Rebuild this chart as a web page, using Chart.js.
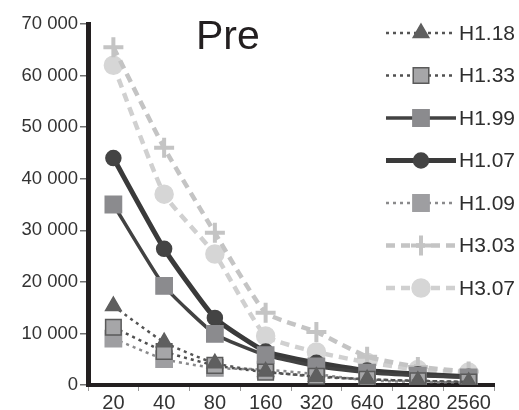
<!DOCTYPE html>
<html>
<head>
<meta charset="utf-8">
<script src="https://cdn.jsdelivr.net/npm/chart.js@4/dist/chart.umd.min.js"></script>
<style>
  html, body { margin: 0; padding: 0; background: #fff; }
  #wrap { width: 519px; height: 410px; }
</style>
</head>
<body>
<div id="wrap"><canvas id="chart" width="519" height="410"></canvas></div>
<script>
const categories = ['20', '40', '80', '160', '320', '640', '1280', '2560'];
const seriesNames = ['H1.18', 'H1.33', 'H1.99', 'H1.07', 'H1.09', 'H3.03', 'H3.07'];
const h118 = [15300, 8300, 4200, 2600, 1600, 1100, 800, 600];
const h133 = [11200, 6500, 3800, 2500, 1700, 1100, 800, 600];
const h199 = [35000, 19200, 9900, 5800, 3600, 2400, 1800, 1500];
const h107 = [44000, 26400, 13000, 6500, 4300, 2800, 2100, 1600];
const h109 = [9000, 5000, 3300, 3000, 2100, 900, 600, 500];
const h303 = [65500, 46000, 29500, 14000, 10300, 5500, 3500, 2600];
const h307 = [62000, 37000, 25400, 9500, 6400, 4400, 3000, 2500];
const yMax = 70000;
const yStep = 10000;

const FONT = "'Liberation Sans', Arial, sans-serif";

function series(label, data, color, width, dash, style, radius, fill, border) {
  return {
    label: label,
    data: data,
    borderColor: color,
    borderWidth: width,
    borderDash: dash,
    pointStyle: style,
    pointRadius: radius,
    pointHoverRadius: radius,
    pointBackgroundColor: fill,
    pointBorderColor: border,
    pointBorderWidth: style === 'cross' ? 4 : 1.5,
    tension: 0.15,
    fill: false
  };
}

const datasets = [
  series(seriesNames[0], h118, '#555555', 2.5, [3, 4], 'triangle', 9, '#5f5f5f', '#5f5f5f'),
  series(seriesNames[1], h133, '#505050', 2.5, [3, 4], 'rect', 11, '#a6a6a8', '#5a5a5a'),
  series(seriesNames[2], h199, '#424242', 3.5, [], 'rect', 11.5, '#8b8b8e', '#8b8b8e'),
  series(seriesNames[3], h107, '#3a3a3a', 5, [], 'circle', 7.5, '#444444', '#444444'),
  series(seriesNames[4], h109, '#8a8a8c', 2.5, [3, 4], 'rect', 11.5, '#9e9ea1', '#9e9ea1'),
  series(seriesNames[5], h303, '#c4c4c4', 4.5, [9, 6], 'cross', 10, '#c4c4c4', '#c4c4c4'),
  series(seriesNames[6], h307, '#d0d0d0', 4.5, [9, 6], 'circle', 9, '#d6d6d6', '#d6d6d6')
];

const titleLegend = {
  id: 'titleLegend',
  afterDatasetsDraw(chart) {
    const ctx = chart.ctx;
    ctx.save();
    ctx.fillStyle = '#231f20';
    ctx.font = '41px ' + FONT;
    ctx.textAlign = 'left';
    ctx.textBaseline = 'alphabetic';
    ctx.fillText('Pre', 196, 49);

    chart.data.datasets.forEach((ds, i) => {
      const y = 33 + i * 42.5;
      ctx.save();
      ctx.strokeStyle = ds.borderColor;
      ctx.lineWidth = ds.borderWidth;
      ctx.setLineDash(ds.borderDash || []);
      ctx.beginPath();
      ctx.moveTo(386, y);
      ctx.lineTo(456, y);
      ctx.stroke();
      ctx.restore();
      ctx.save();
      ctx.fillStyle = ds.pointBackgroundColor;
      ctx.strokeStyle = ds.pointBorderColor;
      ctx.lineWidth = ds.pointBorderWidth;
      Chart.helpers.drawPoint(ctx, {
        pointStyle: ds.pointStyle,
        rotation: 0,
        radius: ds.pointRadius,
        borderWidth: ds.pointBorderWidth
      }, 421, y);
      ctx.restore();
      ctx.fillStyle = '#2e2e2e';
      ctx.font = '21px ' + FONT;
      ctx.textBaseline = 'middle';
      ctx.fillText(ds.label, 459, y + 1);
    });
    ctx.restore();
  }
};

new Chart(document.getElementById('chart'), {
  type: 'line',
  data: { labels: categories, datasets: datasets },
  options: {
    responsive: false,
    animation: false,
    layout: { padding: { top: 24, right: 25, left: 0, bottom: 0 } },
    plugins: {
      legend: { display: false },
      title: { display: false },
      tooltip: { enabled: false }
    },
    scales: {
      x: {
        offset: true,
        grid: { offset: true, drawOnChartArea: false, color: '#9a9a9a', tickLength: 6, lineWidth: 1 },
        border: { display: true, color: '#231f20', width: 4 },
        ticks: { color: '#333333', font: { family: FONT, size: 20 }, padding: 0, maxRotation: 0, autoSkip: false },
        afterFit(scale) { scale.height = 25; }
      },
      y: {
        min: 0,
        max: yMax,
        grid: { drawOnChartArea: false, color: '#707070', tickLength: 8, lineWidth: 1.5 },
        border: { display: true, color: '#231f20', width: 5 },
        ticks: {
          stepSize: yStep,
          color: '#333333',
          font: { family: FONT, size: 18.5 },
          padding: 2,
          callback: v => String(v).replace(/\B(?=(\d{3})+(?!\d))/g, ' ')
        },
        afterFit(scale) { scale.width = 88; }
      }
    }
  },
  plugins: [titleLegend]
});
</script>
</body>
</html>
